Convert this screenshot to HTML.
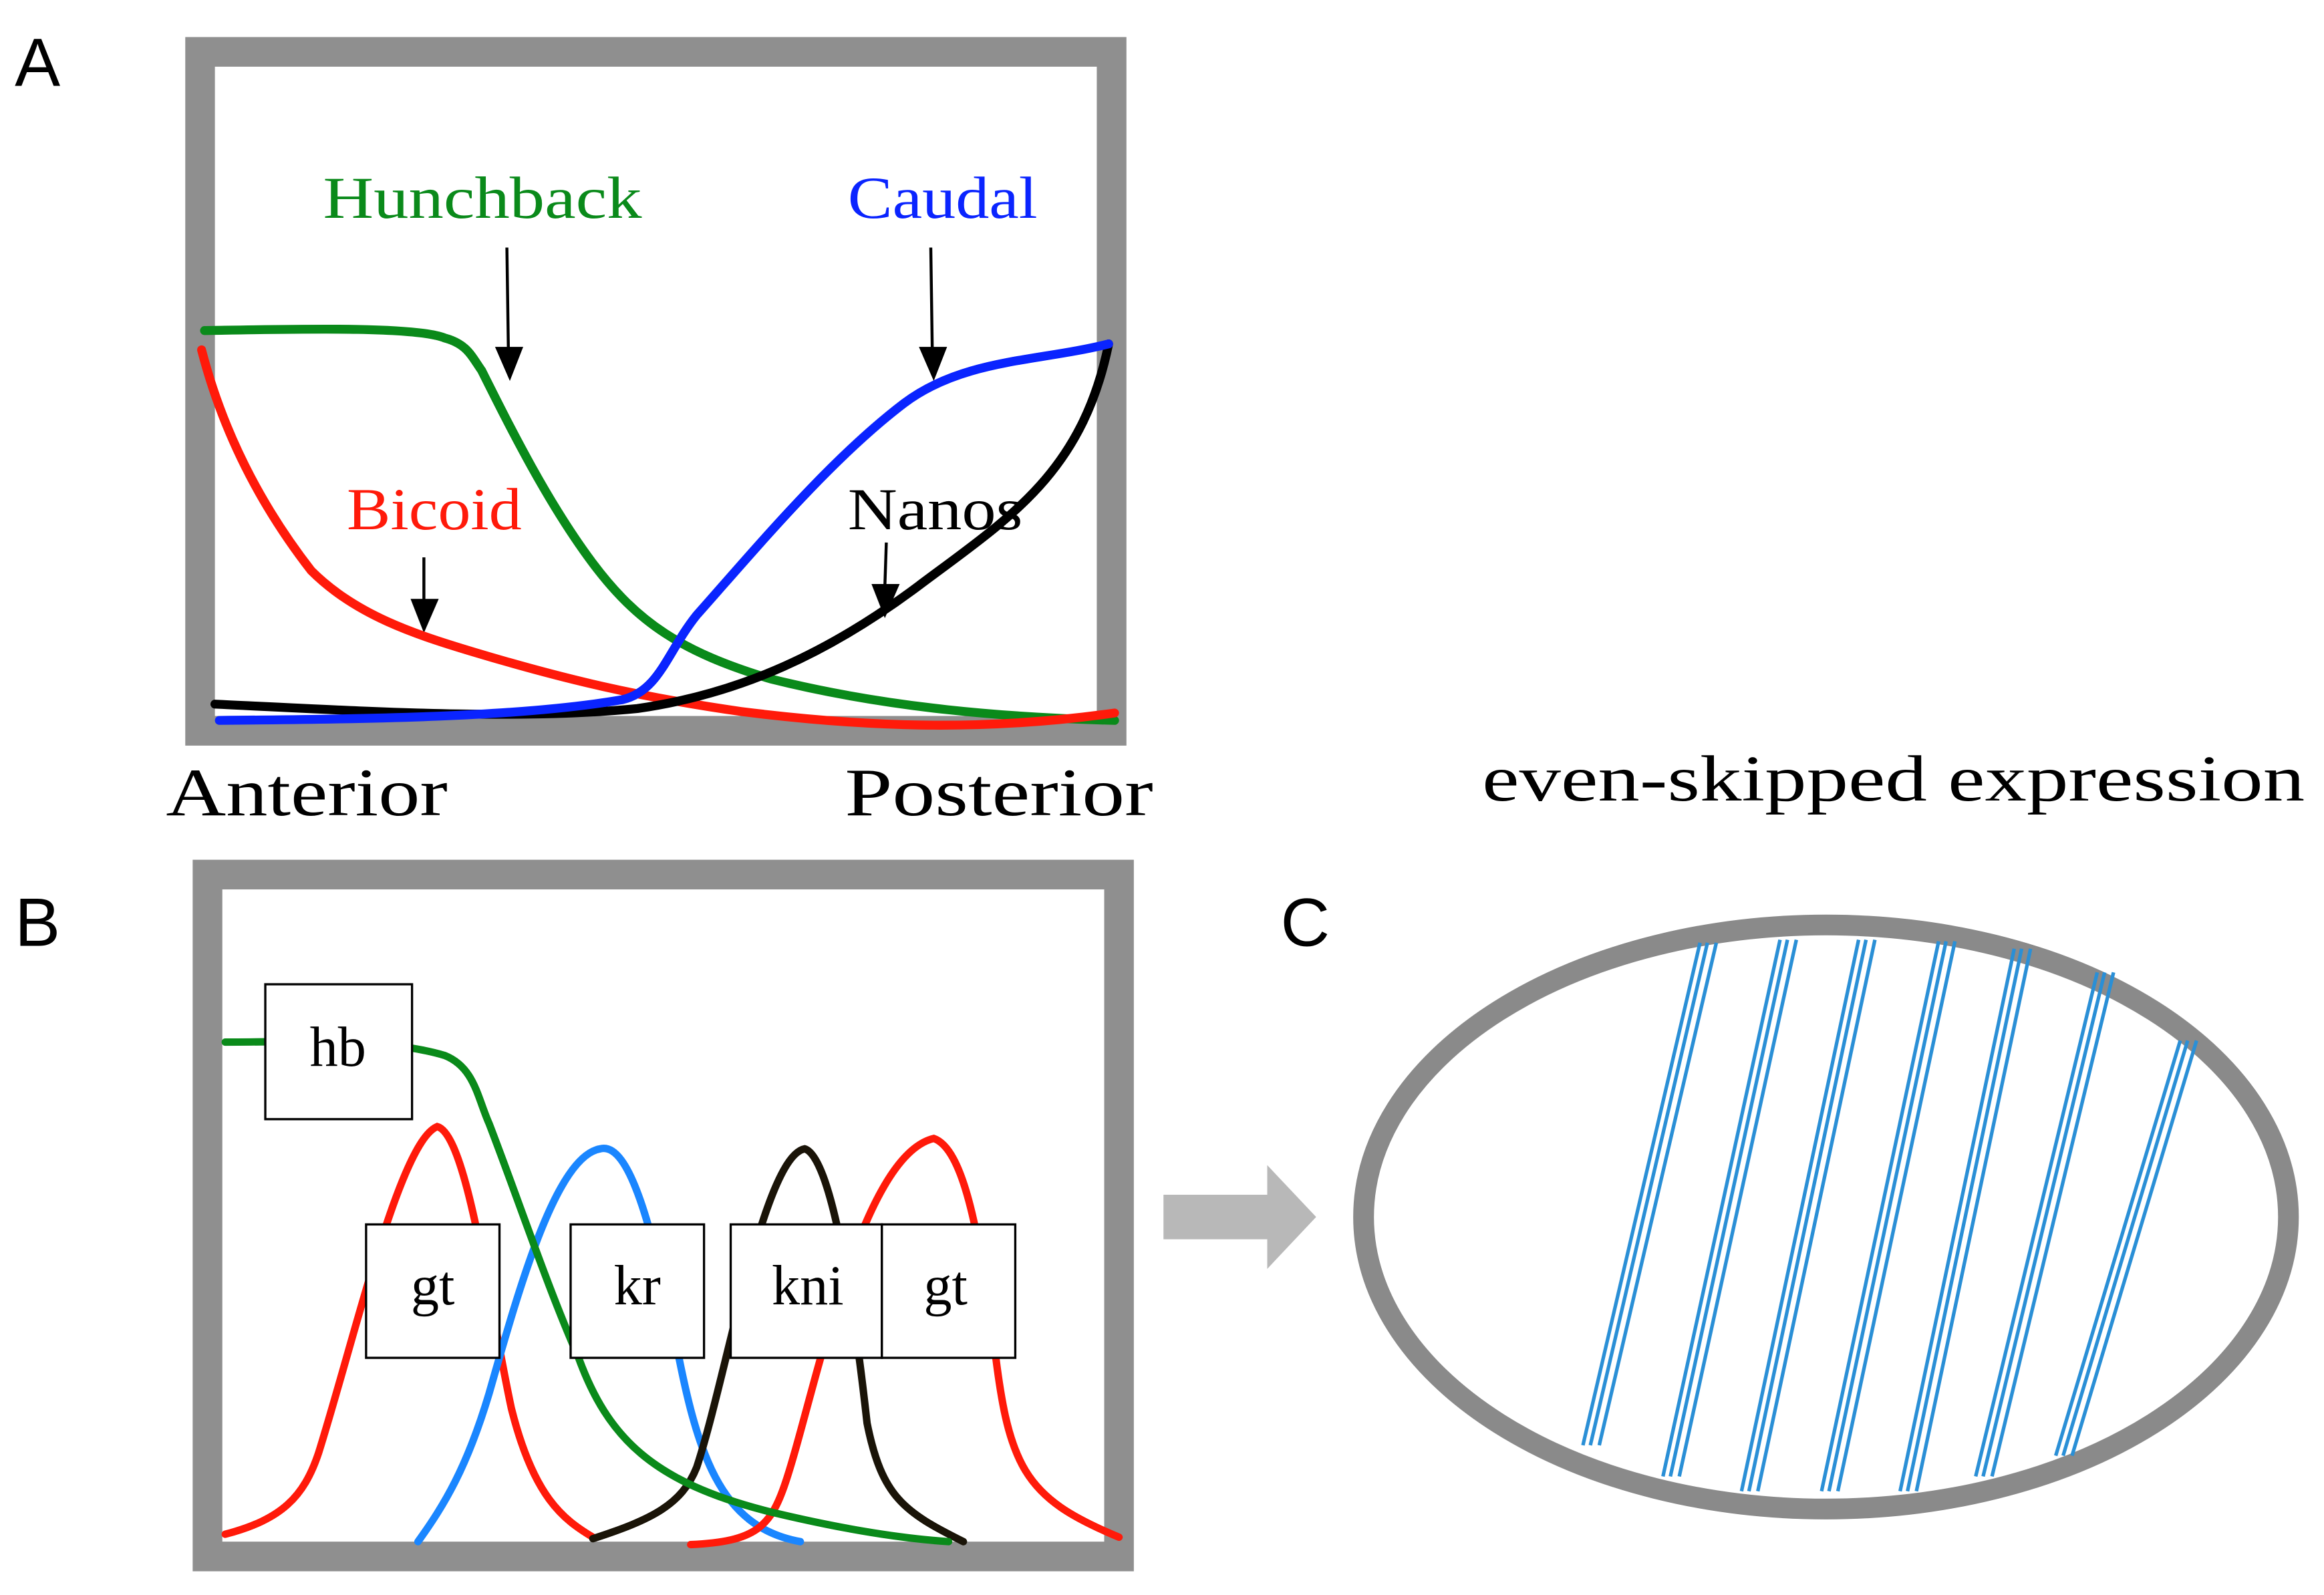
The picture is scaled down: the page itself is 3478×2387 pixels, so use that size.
<!DOCTYPE html>
<html><head><meta charset="utf-8"><style>html,body{margin:0;padding:0;background:#fff}svg{display:block}</style></head>
<body>
<svg width="3478" height="2387" viewBox="0 0 1568 1076" preserveAspectRatio="none" xmlns="http://www.w3.org/2000/svg">
<rect width="1568" height="1076" fill="#fff"/>
<!-- Panel A -->
<text x="10" y="58" font-family="Liberation Sans, sans-serif" font-size="46" fill="#000">A</text>
<rect x="135" y="35" width="615" height="458" fill="#fff" stroke="#8f8f8f" stroke-width="20"/>
<text x="218" y="147" font-family="Liberation Serif, serif" font-size="40" fill="#0a8a1a" textLength="215" lengthAdjust="spacingAndGlyphs">Hunchback</text>
<text x="572" y="147" font-family="Liberation Serif, serif" font-size="40" fill="#0a24ff" textLength="128" lengthAdjust="spacingAndGlyphs">Caudal</text>
<text x="234" y="357" font-family="Liberation Serif, serif" font-size="40" fill="#ff1a0a" textLength="118" lengthAdjust="spacingAndGlyphs">Bicoid</text>
<text x="572" y="357" font-family="Liberation Serif, serif" font-size="40" fill="#000" textLength="118" lengthAdjust="spacingAndGlyphs">Nanos</text>
<g stroke="#000" stroke-width="2" fill="none">
<line x1="342" y1="167" x2="343" y2="236"/>
<line x1="628" y1="167" x2="629" y2="236"/>
<line x1="286" y1="376" x2="286" y2="406"/>
<line x1="598" y1="366" x2="597" y2="396"/>
</g>
<g fill="#000">
<polygon points="334,234 353,234 344,257"/>
<polygon points="620,234 639,234 630,257"/>
<polygon points="277,404 296,404 286,427"/>
<polygon points="588,394 607,394 597,417"/>
</g>
<g fill="none" stroke-width="6" stroke-linecap="round">
<path d="M138,223 C200,222 280,220 300,228 C315,232 318,240 325,250 C345,290 370,340 400,380 C430,420 460,440 520,458 C600,478 680,484 752,486" stroke="#0a8a1a"/>
<path d="M136,236 C150,290 175,340 210,385 C240,415 280,428 320,440 C380,458 430,470 500,480 C580,490 660,494 752,481" stroke="#ff1a0a"/>
<path d="M145,475 C250,480 350,486 430,478 C500,468 560,440 620,395 C680,350 730,320 748,232" stroke="#000"/>
<path d="M148,486 C250,485 350,484 420,472 C445,466 450,440 470,415 C510,370 560,310 610,272 C650,242 700,244 748,232" stroke="#0a24ff"/>
</g>
<text x="112" y="550" font-family="Liberation Serif, serif" font-size="46" fill="#000" textLength="190" lengthAdjust="spacingAndGlyphs">Anterior</text>
<text x="570" y="550" font-family="Liberation Serif, serif" font-size="46" fill="#000" textLength="208" lengthAdjust="spacingAndGlyphs">Posterior</text>
<!-- Panel B -->
<text x="10" y="638" font-family="Liberation Sans, sans-serif" font-size="46" fill="#000">B</text>
<rect x="140" y="590" width="615" height="460" fill="#fff" stroke="#8f8f8f" stroke-width="20"/>
<g fill="none" stroke-width="5" stroke-linecap="round">
<path d="M152,1035 C190,1025 205,1010 215,980 C240,900 270,770 295,760 C315,765 330,880 345,950 C360,1010 380,1025 400,1037" stroke="#ff1a0a"/>
<path d="M282,1040 C300,1015 315,990 330,940 C350,870 375,780 405,775 C425,770 440,830 455,900 C470,980 485,1030 540,1040" stroke="#1a86ff"/>
<path d="M400,1038 C440,1025 460,1015 470,990 C490,930 515,780 543,775 C560,780 575,870 585,960 C595,1010 610,1020 650,1040" stroke="#1a1408"/>
<path d="M466,1042 C510,1040 520,1030 530,1000 C550,940 580,780 630,768 C650,775 660,830 670,900 C680,990 690,1010 755,1037" stroke="#ff1a0a"/>
<path d="M152,703 C200,703 260,700 300,712 C320,720 322,740 330,758 C350,810 370,870 390,915 C410,970 440,1000 520,1020 C570,1032 610,1038 640,1040" stroke="#0a8a1a"/>
</g>
<g fill="#fff" stroke="#000" stroke-width="1.5">
<rect x="179" y="664" width="99" height="91"/>
<rect x="247" y="826" width="90" height="90"/>
<rect x="385" y="826" width="90" height="90"/>
<rect x="493" y="826" width="102" height="90"/>
<rect x="595" y="826" width="90" height="90"/>
</g>
<g font-family="Liberation Serif, serif" font-size="38" fill="#000" text-anchor="middle">
<text x="228" y="719">hb</text>
<text x="292" y="880">gt</text>
<text x="430" y="880">kr</text>
<text x="545" y="880">kni</text>
<text x="638" y="880">gt</text>
</g>
<!-- Arrow -->
<path d="M785,806 L855,806 L855,786 L888,821 L855,856 L855,836 L785,836 Z" fill="#b8b8b8"/>
<!-- Panel C -->
<text x="1000" y="540" font-family="Liberation Serif, serif" font-size="44" fill="#000" textLength="555" lengthAdjust="spacingAndGlyphs">even-skipped expression</text>
<text x="864" y="638" font-family="Liberation Sans, sans-serif" font-size="46" fill="#000">C</text>
<ellipse cx="1232" cy="821" rx="312" ry="197" fill="#fff" stroke="#8a8a8a" stroke-width="14"/>
<g stroke="#2a8fd6" stroke-width="2.4" fill="none">
<path d="M1147,636 L1068,975 M1152,636 L1073,975 M1158,636 L1079,975"/>
<path d="M1201,634 L1122,996 M1206,634 L1127,996 M1212,634 L1133,996"/>
<path d="M1254,634 L1175,1006 M1259,634 L1180,1006 M1265,634 L1186,1006"/>
<path d="M1308,635 L1229,1006 M1313,635 L1234,1006 M1319,635 L1240,1006"/>
<path d="M1359,640 L1282,1006 M1364,640 L1287,1006 M1370,640 L1293,1006"/>
<path d="M1415,656 L1333,996 M1420,656 L1338,996 M1426,656 L1344,996"/>
<path d="M1471,702 L1387,982 M1476,702 L1392,982 M1482,702 L1398,982"/>
</g>
</svg>
</body></html>
